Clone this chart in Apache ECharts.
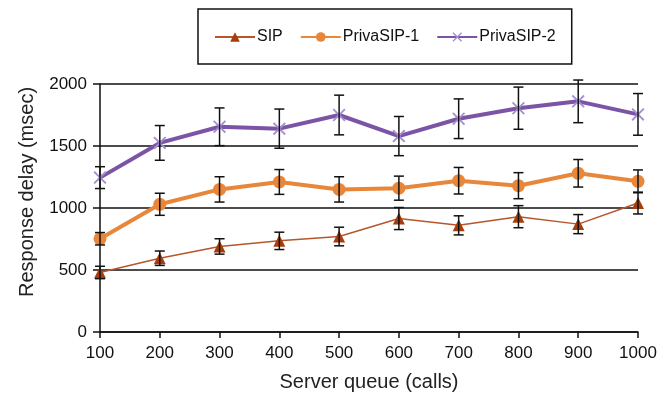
<!DOCTYPE html>
<html>
<head>
<meta charset="utf-8">
<script src="https://cdn.jsdelivr.net/npm/echarts@6/dist/echarts.min.js"></script>
<style>
  html, body { margin: 0; padding: 0; background: #fff; }
  #chart { width: 671px; height: 394px; }
</style>
</head>
<body>
<div id="chart"></div>
<script>
const queues = ['100', '200', '300', '400', '500', '600', '700', '800', '900', '1000'];

const sip = [480, 595, 690, 735, 770, 915, 860, 930, 870, 1040];
const sipErr = [50, 58, 62, 70, 75, 89, 77, 89, 77, 88];

const priva1 = [752, 1030, 1150, 1210, 1150, 1160, 1220, 1180, 1280, 1215];
const priva1Err = [50, 89, 102, 100, 102, 97, 107, 105, 111, 92];

const priva2 = [1245, 1525, 1655, 1640, 1750, 1580, 1720, 1805, 1860, 1755];
const priva2Err = [88, 140, 152, 158, 160, 158, 160, 170, 172, 168];

const chart = echarts.init(document.getElementById('chart'));

// X shaped marker for PrivaSIP-2
const crossPath = 'path://M0,1L1,0L5,4L9,0L10,1L6,5L10,9L9,10L5,6L1,10L0,9L4,5Z';

function errData(vals, errs) {
  return vals.map((v, i) => [i, v - errs[i], v + errs[i]]);
}

function errSeries(vals, errs) {
  return {
    type: 'custom',
    z: 5,
    silent: true,
    renderItem: (params, api) => {
      const x = api.value(0);
      const lo = api.coord([x, api.value(1)]);
      const hi = api.coord([x, api.value(2)]);
      const w = 5;
      const style = { stroke: '#111', lineWidth: 1.5 };
      return {
        type: 'group',
        children: [
          { type: 'line', shape: { x1: lo[0], y1: lo[1], x2: hi[0], y2: hi[1] }, style },
          { type: 'line', shape: { x1: lo[0] - w, y1: lo[1], x2: lo[0] + w, y2: lo[1] }, style },
          { type: 'line', shape: { x1: hi[0] - w, y1: hi[1], x2: hi[0] + w, y2: hi[1] }, style }
        ]
      };
    },
    data: errData(vals, errs)
  };
}

const font = 'Liberation Sans, Arial, sans-serif';

chart.setOption({
  animation: false,
  backgroundColor: '#fff',
  textStyle: { fontFamily: font },
  legend: {
    left: 198,
    top: 9,
    width: 370,
    padding: [20, 16, 19, 16],
    borderColor: '#111',
    borderWidth: 1.5,
    itemWidth: 40,
    itemHeight: 12,
    itemGap: 17,
    textStyle: { fontSize: 16, color: '#111', fontFamily: font, padding: [0, 0, 0, -3] },
    data: ['SIP', 'PrivaSIP-1', 'PrivaSIP-2']
  },
  grid: { left: 100, right: 33, top: 84, bottom: 62, outerBoundsMode: 'none' },
  xAxis: {
    type: 'category',
    data: queues,
    boundaryGap: false,
    name: 'Server queue (calls)',
    nameLocation: 'middle',
    nameGap: 40,
    nameTextStyle: { fontSize: 20, color: '#222' },
    axisLine: { lineStyle: { color: '#111', width: 1.5 } },
    axisTick: { length: 6, lineStyle: { color: '#111', width: 1.5 } },
    axisLabel: { fontSize: 17, color: '#111', margin: 13 }
  },
  yAxis: {
    type: 'value',
    min: 0,
    max: 2000,
    interval: 500,
    name: 'Response delay (msec)',
    nameLocation: 'middle',
    nameGap: 63,
    nameTextStyle: { fontSize: 20, color: '#222', padding: [0, 0, 0, 32] },
    axisLine: { show: true, lineStyle: { color: '#111', width: 1.5 } },
    axisTick: { show: true, length: 7, lineStyle: { color: '#111', width: 1.5 } },
    axisLabel: { fontSize: 17, color: '#111', margin: 13, formatter: v => String(v) },
    splitLine: { lineStyle: { color: '#111', width: 1.5 } }
  },
  series: [
    {
      name: 'SIP',
      type: 'line',
      data: sip,
      color: '#a53e0c',
      symbol: 'triangle',
      symbolSize: 12,
      lineStyle: { width: 1.5, color: '#b8552a' },
      itemStyle: { color: '#a53e0c' },
      z: 3
    },
    {
      name: 'PrivaSIP-1',
      type: 'line',
      data: priva1,
      color: '#e8863a',
      symbol: 'circle',
      symbolSize: 13,
      lineStyle: { width: 4, color: '#e8863a' },
      itemStyle: { color: '#e8863a' },
      z: 3
    },
    {
      name: 'PrivaSIP-2',
      type: 'line',
      data: priva2,
      color: '#7b54a6',
      symbol: crossPath,
      symbolSize: 13,
      lineStyle: { width: 4, color: '#7b54a6' },
      itemStyle: { color: '#a48fd2' },
      z: 3
    },
    errSeries(sip, sipErr),
    errSeries(priva1, priva1Err),
    errSeries(priva2, priva2Err)
  ]
});
</script>
</body>
</html>
